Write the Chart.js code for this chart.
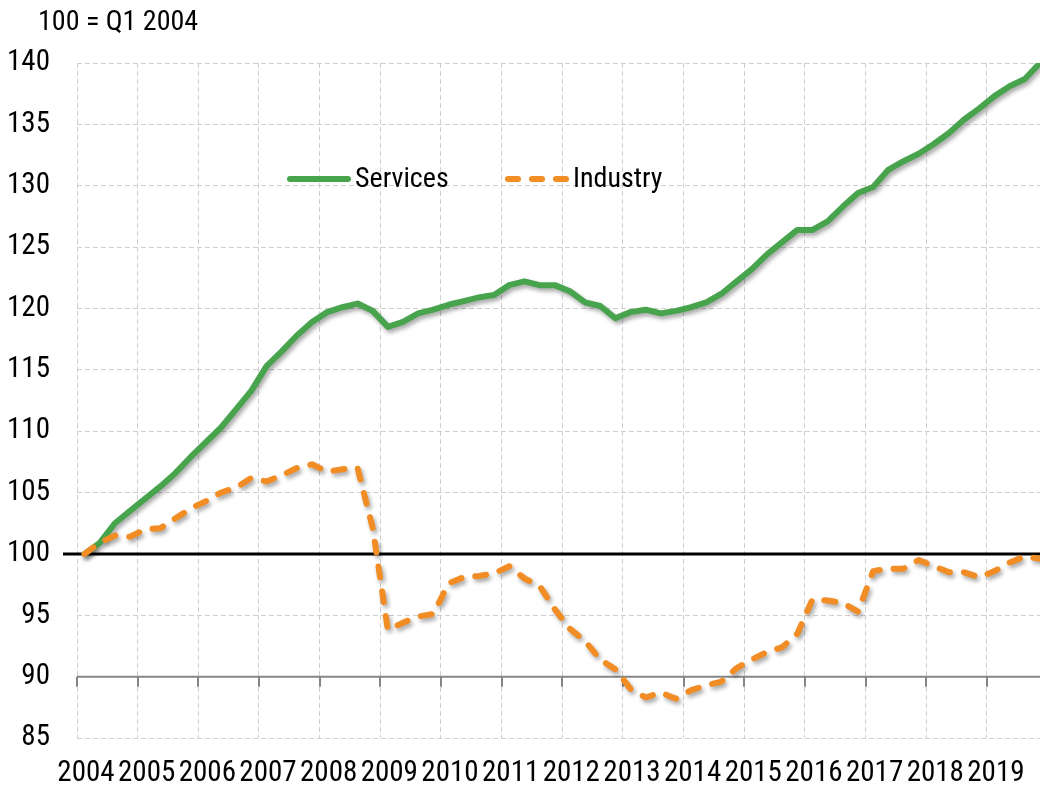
<!DOCTYPE html>
<html>
<head>
<meta charset="utf-8">
<script src="https://cdn.jsdelivr.net/npm/chart.js@4.4.1/dist/chart.umd.min.js"></script>
<style>
  html, body { margin: 0; padding: 0; background: #fff; }
  #wrap { width: 1040px; height: 790px; }
</style>
</head>
<body>
<div id="wrap"><canvas id="chart"></canvas></div>
<script>
// quarterly index, 100 = Q1 2004
const years = [2004, 2005, 2006, 2007, 2008, 2009, 2010, 2011, 2012, 2013, 2014, 2015, 2016, 2017, 2018, 2019];
const yTicks = [85, 90, 95, 100, 105, 110, 115, 120, 125, 130, 135, 140];

const services = [
  100.0, 100.9, 102.5, 103.5, 104.5, 105.5, 106.6, 107.9,
  109.1, 110.3, 111.8, 113.3, 115.3, 116.5, 117.8, 118.9,
  119.7, 120.1, 120.4, 119.8, 118.5, 118.9, 119.6, 119.9,
  120.3, 120.6, 120.9, 121.1, 121.9, 122.2, 121.9, 121.9,
  121.4, 120.5, 120.2, 119.2, 119.7, 119.9, 119.6, 119.8,
  120.1, 120.5, 121.2, 122.2, 123.2, 124.4, 125.4, 126.4,
  126.4, 127.1, 128.3, 129.4, 129.9, 131.3, 132.0, 132.6,
  133.4, 134.3, 135.4, 136.3, 137.3, 138.1, 138.7, 140.0
];
const industry = [
  100.0, 100.9, 101.5, 101.4, 102.0, 102.1, 102.9, 103.7,
  104.3, 105.0, 105.4, 106.2, 105.9, 106.4, 107.0, 107.3,
  106.7, 106.9, 107.0, 102.1, 93.8, 94.4, 94.9, 95.1,
  97.6, 98.1, 98.2, 98.4, 99.0, 98.0, 97.4, 95.5,
  93.9, 92.9, 91.4, 90.6, 89.0, 88.3, 88.7, 88.2,
  88.9, 89.3, 89.6, 90.7, 91.4, 92.0, 92.4, 93.5,
  96.3, 96.2, 96.0, 95.3, 98.6, 98.8, 98.8, 99.5,
  99.0, 98.5, 98.5, 98.1, 98.6, 99.3, 99.8, 99.6
];

const FONT = "'Liberation Sans Narrow', 'Arial Narrow', 'Roboto Condensed', sans-serif";
const GREEN = '#47a34c';
const ORANGE = '#f28d25';

// each quarter sits in the middle of its slot, like the Excel category axis
const qx = i => years[0] + (i + 0.5) / 4;
const toPoints = arr => arr.map((v, i) => ({ x: qx(i), y: v }));

const extras = {
  id: 'extras',
  beforeDatasetsDraw(chart) {
    const { ctx, chartArea: a, scales: { x, y } } = chart;
    ctx.save();
    // x axis line sits on 90, with tick marks below it
    const y90 = y.getPixelForValue(90);
    ctx.strokeStyle = '#868686';
    ctx.lineWidth = 2;
    ctx.beginPath();
    ctx.moveTo(a.left, y90);
    ctx.lineTo(a.right, y90);
    years.forEach(yr => {
      const px = Math.round(x.getPixelForValue(yr));
      ctx.moveTo(px, y90);
      ctx.lineTo(px, y90 + 10);
    });
    ctx.stroke();
    // reference line at 100
    const y100 = y.getPixelForValue(100);
    ctx.strokeStyle = '#000';
    ctx.lineWidth = 3;
    ctx.beginPath();
    ctx.moveTo(a.left - 14, y100);
    ctx.lineTo(a.right, y100);
    ctx.stroke();
    ctx.restore();
  },
  beforeDatasetDraw(chart) {
    const ctx = chart.ctx;
    ctx.save();
    ctx.shadowColor = 'rgba(0,0,0,0.35)';
    ctx.shadowBlur = 4;
    ctx.shadowOffsetX = 2;
    ctx.shadowOffsetY = 3;
  },
  afterDatasetDraw(chart) {
    chart.ctx.restore();
  },
  afterDraw(chart) {
    const ctx = chart.ctx;
    ctx.save();
    ctx.font = '28px ' + FONT;
    ctx.fillStyle = '#000';
    ctx.textBaseline = 'middle';
    ctx.textAlign = 'left';
    ctx.fillText('100 = Q1 2004', 38, 23);

    // legend inside the plot
    ctx.lineWidth = 6;
    ctx.lineCap = 'round';
    ctx.strokeStyle = GREEN;
    ctx.beginPath();
    ctx.moveTo(290, 179);
    ctx.lineTo(348, 179);
    ctx.stroke();
    ctx.fillText('Services', 355, 180);

    ctx.strokeStyle = ORANGE;
    ctx.setLineDash([10, 14]);
    ctx.beginPath();
    ctx.moveTo(508, 179);
    ctx.lineTo(568, 179);
    ctx.stroke();
    ctx.setLineDash([]);
    ctx.fillText('Industry', 573, 180);
    ctx.restore();
  }
};

new Chart(document.getElementById('chart'), {
  type: 'line',
  data: {
    datasets: [
      {
        label: 'Industry',
        data: toPoints(industry),
        borderColor: ORANGE,
        borderWidth: 6,
        borderDash: [11, 14],
        borderCapStyle: 'round',
        borderJoinStyle: 'round',
        pointRadius: 0,
        tension: 0,
        order: 0
      },
      {
        label: 'Services',
        data: toPoints(services),
        borderColor: GREEN,
        borderWidth: 6,
        borderCapStyle: 'round',
        borderJoinStyle: 'round',
        pointRadius: 0,
        tension: 0,
        order: 1
      }
    ]
  },
  options: {
    responsive: true,
    maintainAspectRatio: false,
    animation: false,
    layout: { padding: { top: 63, left: 0, right: 0, bottom: 0 } },
    plugins: {
      legend: { display: false },
      tooltip: { enabled: false },
      title: { display: false }
    },
    scales: {
      x: {
        type: 'linear',
        min: 2004,
        max: 2019.875,
        afterBuildTicks: s => { s.ticks = years.map(v => ({ value: v })); },
        afterFit: s => { s.height = 52; },
        grid: { color: '#cfcfcf', lineWidth: 1, drawTicks: false },
        border: { display: false, dash: [5, 3] },
        ticks: {
          color: '#000',
          font: { family: FONT, size: 29 },
          padding: 18,
          labelOffset: 9,
          maxRotation: 0,
          autoSkip: false,
          callback: v => String(v)
        }
      },
      y: {
        min: 85,
        max: 140,
        afterBuildTicks: s => { s.ticks = yTicks.map(v => ({ value: v })); },
        afterFit: s => { s.width = 77; },
        grid: { color: '#cfcfcf', lineWidth: 1, drawTicks: false },
        border: { display: false, dash: [5, 3] },
        ticks: {
          color: '#000',
          font: { family: FONT, size: 29 },
          padding: 27
        }
      }
    }
  },
  plugins: [extras]
});
</script>
</body>
</html>
